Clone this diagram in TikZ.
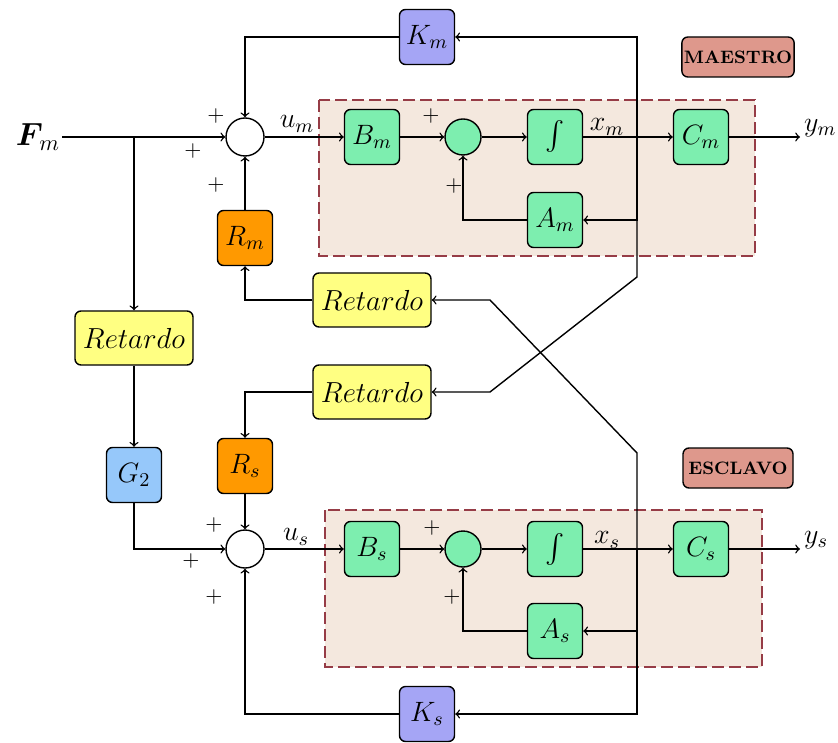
\RequirePackage{fix-cm}
\documentclass[tikz,border=0pt]{standalone}
\usepackage{amsmath}
\usepackage{tikz}

\definecolor{verde}{RGB}{125,238,175}
\definecolor{lila}{RGB}{165,165,245}
\definecolor{naranja}{RGB}{255,153,0}
\definecolor{amarillo}{RGB}{255,255,130}
\definecolor{azul}{RGB}{150,200,250}
\definecolor{rosa}{RGB}{222,152,140}
\definecolor{fondo}{RGB}{244,232,222}
\definecolor{borde}{RGB}{150,60,70}

\tikzset{
  blk/.style={draw, rounded corners=3pt, line width=0.7pt, minimum width=27.5pt, minimum height=27.5pt, inner sep=1pt, font=\fontsize{14}{16}\selectfont},
  ret/.style={blk, fill=amarillo, minimum width=59pt, minimum height=27pt, font=\fontsize{14.5}{16}\selectfont},
  suma/.style={draw, circle, line width=0.7pt, inner sep=0pt},
  etq/.style={draw, rounded corners=3pt, line width=0.7pt, fill=rosa, minimum width=55pt, minimum height=20pt, inner sep=1pt, font=\fontsize{9}{10}\selectfont\bfseries},
  grupo/.style={draw=borde, fill=fondo, line width=1.4pt, dash pattern=on 6pt off 2.5pt},
  signo/.style={inner sep=0pt, font=\fontsize{11}{12}\selectfont},
  lbl/.style={inner sep=0.75pt, font=\fontsize{14}{16}\selectfont},
}

\begin{document}
\begin{tikzpicture}[x=0.5pt,y=0.5pt,yscale=-1,xscale=1,line width=0.7pt,>=to]
\useasboundingbox (0,0) rectangle (838,742);

%Groups
\draw [grupo] (319,100) rectangle (755,256) ;
\draw [grupo] (325,510) rectangle (762,667) ;

% Master blocks
\node [blk, fill=lila] (km) at (427,37) {$K_m$};
\node [suma, fill=white, minimum size=19pt] (sumM) at (245,137) {};
\node [blk, fill=verde] (bm) at (372,137) {$B_m$};
\node [suma, fill=verde, minimum size=18pt] (sgM) at (463,137) {};
\node [blk, fill=verde] (intM) at (555,137) {$\int$};
\node [blk, fill=verde] (cm) at (701,137) {$C_m$};
\node [blk, fill=verde] (am) at (555,220) {$A_m$};
\node [blk, fill=naranja] (rm) at (245,238) {$R_m$};
\node [etq] (maestro) at (738,57) {MAESTRO};

% Delay blocks
\node [ret] (retL) at (134,338) {$Retardo$};
\node [ret] (retR1) at (372,300) {$Retardo$};
\node [ret] (retR2) at (372,392) {$Retardo$};
\node [blk, fill=azul] (g2) at (134,475) {$G_2$};
\node [blk, fill=naranja] (rs) at (245,466) {$R_s$};

% Slave blocks
\node [suma, fill=white, minimum size=19pt] (sumS) at (245,549) {};
\node [blk, fill=verde] (bs) at (372,549) {$B_s$};
\node [suma, fill=verde, minimum size=18pt] (sgS) at (463,549) {};
\node [blk, fill=verde] (intS) at (555,549) {$\int$};
\node [blk, fill=verde] (cs) at (701,549) {$C_s$};
\node [blk, fill=verde] (asl) at (555,631) {$A_s$};
\node [blk, fill=lila] (ks) at (427,714) {$K_s$};
\node [etq] (esclavo) at (738,468) {ESCLAVO};

% Text Node
\node [lbl, font=\fontsize{16}{18}\selectfont] (fm) at (38,137) {$\boldsymbol{F}_{\!m}$};
\coordinate (jF) at (134,137);
\coordinate (jXm) at (637,137);
\coordinate (ym) at (800,137);
\coordinate (jXs) at (637,549);
\coordinate (ys) at (800,549);
\coordinate (cXm1) at (637,277);
\coordinate (cXm2) at (490,392);
\coordinate (cXs1) at (637,453);
\coordinate (cXs2) at (490,300);

%Straight Lines master
\draw [->] (fm) -- (sumM) ;
\draw [->] (jF) -- (retL) ;
\draw [->] (km) -| (sumM) ;
\draw [->] (rm) -- (sumM) ;
\draw [->] (sumM) -- (bm) ;
\draw [->] (bm) -- (sgM) ;
\draw [->] (sgM) -- (intM) ;
\draw [->] (intM) -- (cm) ;
\draw [->] (cm) -- (ym) ;
\draw [->] (jXm) |- (km) ;
\draw [->] (jXm) |- (am) ;
\draw [->] (am) -| (sgM) ;
\draw [->] (jXm) -- (cXm1) -- (cXm2) -- (retR2) ;

%Straight Lines delays
\draw [->] (retL) -- (g2) ;
\draw [->] (g2) |- (sumS) ;
\draw [->] (retR1) -| (rm) ;
\draw [->] (retR2) -| (rs) ;

%Straight Lines slave
\draw [->] (rs) -- (sumS) ;
\draw [->] (sumS) -- (bs) ;
\draw [->] (bs) -- (sgS) ;
\draw [->] (sgS) -- (intS) ;
\draw [->] (intS) -- (cs) ;
\draw [->] (cs) -- (ys) ;
\draw [->] (jXs) |- (ks) ;
\draw [->] (ks) -| (sumS) ;
\draw [->] (jXs) |- (asl) ;
\draw [->] (asl) -| (sgS) ;
\draw [->] (jXs) -- (cXs1) -- (cXs2) -- (retR1) ;

% Text Node
\node [lbl] (um) at (297,124) {$u_m$};
\node [lbl] (xm) at (607,127) {$x_m$};
\node [lbl, anchor=west] (ymL) at (802,128) {$y_m$};
\node [lbl] (us) at (296,537) {$u_s$};
\node [lbl] (xs) at (607,540) {$x_s$};
\node [lbl, anchor=west] (ysL) at (802,540) {$y_s$};

% Signs
\node [signo] (p1) at (216,116) {$+$};
\node [signo] (p2) at (193,151) {$+$};
\node [signo] (p3) at (216,185) {$+$};
\node [signo] (p4) at (431,116) {$+$};
\node [signo] (p5) at (454,186) {$+$};
\node [signo] (p6) at (214,525) {$+$};
\node [signo] (p7) at (191,561) {$+$};
\node [signo] (p8) at (214,597) {$+$};
\node [signo] (p9) at (432,528) {$+$};
\node [signo] (p10) at (452,597) {$+$};
\end{tikzpicture}
\end{document}
